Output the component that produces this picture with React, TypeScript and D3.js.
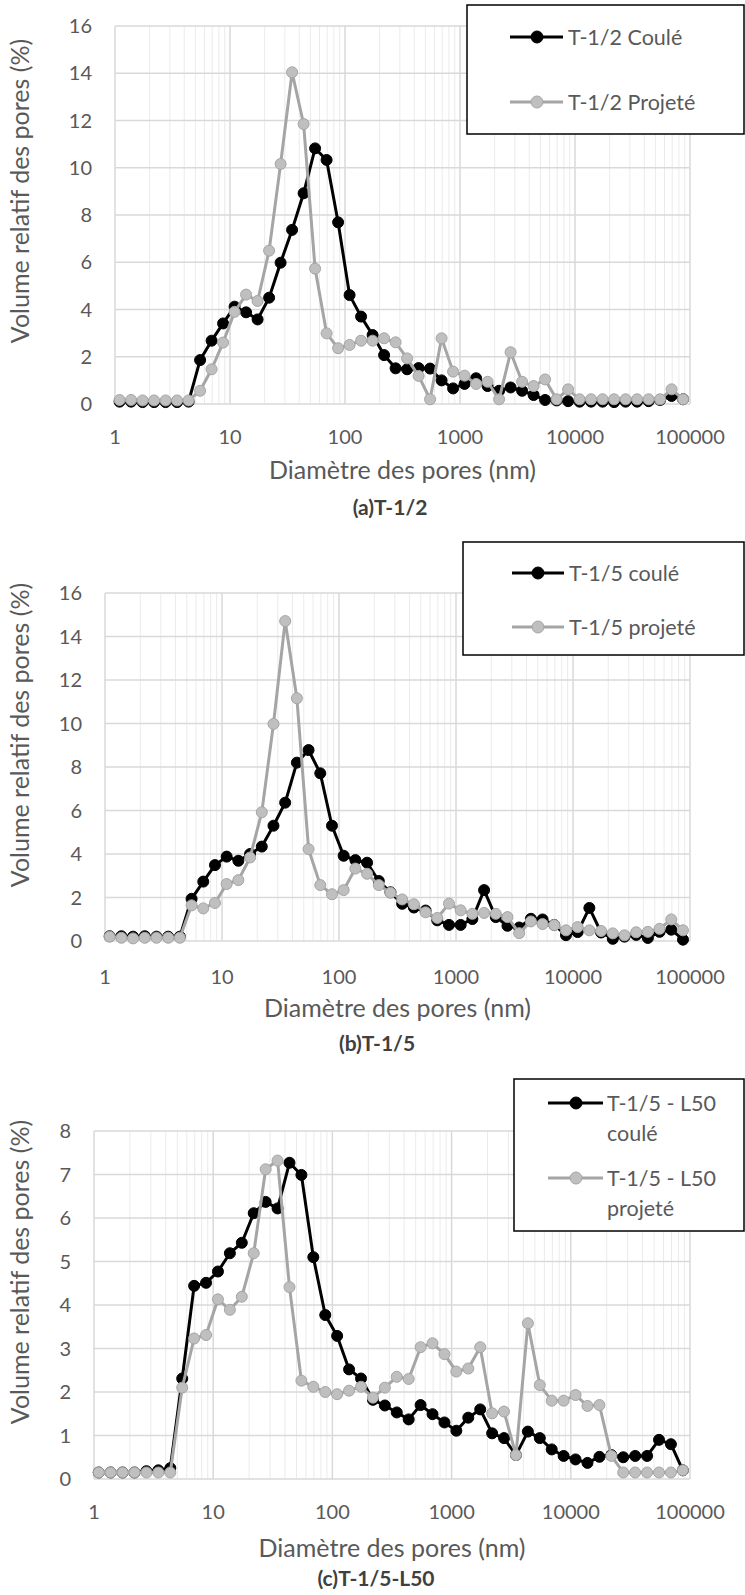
import React from "react";
import * as d3 from "d3";

// ---- Data ----
const diameters = [
  1.096, 1.38, 1.738, 2.188, 2.754, 3.467, 4.365, 5.495, 6.918, 8.71,
  10.96, 13.8, 17.38, 21.88, 27.54, 34.67, 43.65, 54.95, 69.18, 87.1,
  109.6, 138, 173.8, 218.8, 275.4, 346.7, 436.5, 549.5, 691.8, 871,
  1096, 1380, 1738, 2188, 2754, 3467, 4365, 5495, 6918, 8710,
  10960, 13800, 17380, 21880, 27540, 34670, 43650, 54950, 69180, 87100,
];

const a_coule = [
  0.1, 0.1, 0.08, 0.08, 0.08, 0.08, 0.1, 1.86, 2.68, 3.41,
  4.12, 3.88, 3.58, 4.5, 5.98, 7.37, 8.92, 10.82, 10.33, 7.69,
  4.61, 3.7, 2.92, 2.07, 1.51, 1.47, 1.52, 1.5, 1.0, 0.66,
  0.85, 1.09, 0.76, 0.56, 0.7, 0.56, 0.38, 0.17, 0.15, 0.12,
  0.1, 0.1, 0.1, 0.08, 0.1, 0.1, 0.12, 0.17, 0.34, 0.2,
];
const a_projete = [
  0.17, 0.17, 0.15, 0.15, 0.15, 0.15, 0.15, 0.56, 1.47, 2.6,
  3.9, 4.63, 4.36, 6.49, 10.16, 14.04, 11.85, 5.73, 2.99, 2.36,
  2.5, 2.68, 2.68, 2.78, 2.61, 1.93, 1.19, 0.2, 2.78, 1.37,
  1.2, 0.85, 0.94, 0.2, 2.19, 0.94, 0.76, 1.04, 0.2, 0.62,
  0.2, 0.2, 0.2, 0.2, 0.2, 0.2, 0.2, 0.2, 0.62, 0.2,
];

const b_coule = [
  0.22, 0.22, 0.2, 0.22, 0.2, 0.2, 0.2, 1.94, 2.73, 3.49,
  3.88, 3.69, 4.0, 4.34, 5.3, 6.36, 8.2, 8.78, 7.71, 5.3,
  3.92, 3.72, 3.6, 2.76, 2.24, 1.71, 1.54, 1.4, 0.95, 0.74,
  0.74, 1.01, 2.34, 1.1, 0.7, 0.62, 1.02, 0.99, 0.74, 0.27,
  0.41, 1.52, 0.39, 0.1, 0.2, 0.28, 0.14, 0.42, 0.52, 0.06,
];
const b_projete = [
  0.2, 0.15, 0.12, 0.15, 0.15, 0.15, 0.15, 1.64, 1.5, 1.75,
  2.62, 2.8, 3.84, 5.92, 9.98, 14.71, 11.16, 4.22, 2.57, 2.15,
  2.34, 3.33, 3.09, 2.57, 2.22, 1.91, 1.69, 1.32, 1.06, 1.72,
  1.41, 1.25, 1.29, 1.25, 1.1, 0.36, 0.9, 0.78, 0.73, 0.49,
  0.64, 0.49, 0.46, 0.35, 0.26, 0.4, 0.42, 0.56, 0.99, 0.49,
];

const c_coule = [
  0.15, 0.15, 0.15, 0.15, 0.18, 0.2, 0.25, 2.31, 4.44, 4.51,
  4.77, 5.19, 5.43, 6.11, 6.37, 6.22, 7.27, 6.99, 5.1, 3.77,
  3.29, 2.52, 2.31, 1.82, 1.69, 1.53, 1.37, 1.7, 1.49, 1.3,
  1.11, 1.41, 1.6, 1.05, 0.94, 0.55, 1.09, 0.94, 0.68, 0.53,
  0.45, 0.37, 0.51, 0.55, 0.5, 0.53, 0.53, 0.9, 0.8, 0.2,
];
const c_projete = [
  0.15, 0.15, 0.15, 0.15, 0.15, 0.15, 0.15, 2.1, 3.23, 3.31,
  4.13, 3.89, 4.19, 5.19, 7.12, 7.32, 4.41, 2.26, 2.12, 2.0,
  1.95, 2.03, 2.12, 1.87, 2.1, 2.35, 2.3, 3.03, 3.12, 2.87,
  2.47, 2.54, 3.03, 1.51, 1.55, 0.55, 3.58, 2.16, 1.8, 1.8,
  1.93, 1.68, 1.7, 0.53, 0.15, 0.15, 0.15, 0.15, 0.15, 0.2,
];

const xTickValues = [1, 10, 100, 1000, 10000, 100000];
const xTickLabels = ["1", "10", "100", "1000", "10000", "100000"];
const yTicks16 = [0, 2, 4, 6, 8, 10, 12, 14, 16];
const yTicks8 = [0, 1, 2, 3, 4, 5, 6, 7, 8];

const xTitle = "Diamètre des pores (nm)";
const yTitle = "Volume relatif des pores (%)";

const legendA = [["T-1/2 Coulé"], ["T-1/2 Projeté"]];
const legendB = [["T-1/5 coulé"], ["T-1/5 projeté"]];
const legendC = [["T-1/5 - L50", "coulé"], ["T-1/5 - L50", "projeté"]];

// ---- Layout ----
const FONT = "Lato, Carlito, 'Noto Sans', sans-serif";
const TEXT = "#595959";
const BLACK = "#000000";
const GREY_LINE = "#A5A5A5";
const GREY_FILL = "#BFBFBF";

type ChartCfg = {
  l: number; r: number; t: number; b: number;
  ymax: number; yticks: number[];
  yTitleCy: number; xTitleY: number; xTickY: number;
  caption: string; capX: number; capY: number;
  series: number[][];
  legend: { x: number; y: number; h: number; lx1: number; lx2: number; mx: number; tx: number; rowY: number[]; rows: string[][] };
};

const charts: ChartCfg[] = [
  {
    l: 115, r: 690, t: 26, b: 404, ymax: 16, yticks: yTicks16,
    yTitleCy: 191, xTitleY: 479, xTickY: 444,
    caption: "(a)T-1/2", capX: 390, capY: 515,
    series: [a_coule, a_projete],
    legend: { x: 467, y: 5, h: 129, lx1: 510, lx2: 563, mx: 537, tx: 568, rowY: [37, 102], rows: legendA },
  },
  {
    l: 105, r: 690, t: 593, b: 941, ymax: 16, yticks: yTicks16,
    yTitleCy: 735, xTitleY: 1017, xTickY: 984,
    caption: "(b)T-1/5", capX: 377, capY: 1051,
    series: [b_coule, b_projete],
    legend: { x: 463, y: 542, h: 113, lx1: 512, lx2: 564, mx: 538, tx: 569, rowY: [573, 627], rows: legendB },
  },
  {
    l: 94, r: 690, t: 1131, b: 1479, ymax: 8, yticks: yTicks8,
    yTitleCy: 1272, xTitleY: 1557, xTickY: 1519,
    caption: "(c)T-1/5-L50", capX: 376, capY: 1586,
    series: [c_coule, c_projete],
    legend: { x: 514, y: 1079, h: 152, lx1: 548, lx2: 603, mx: 576, tx: 607, rowY: [1103, 1178], rows: legendC },
  },
];

const minorValues: number[] = [];
for (let d = 1; d < 100000; d *= 10) for (let m = 2; m <= 9; m++) minorValues.push(m * d);

function Chart({ c }: { c: ChartCfg }) {
  const x = d3.scaleLog().domain([1, 100000]).range([c.l, c.r]);
  const y = d3.scaleLinear().domain([0, c.ymax]).range([c.b, c.t]);
  const line = d3.line<number>().x((_, i) => x(diameters[i])).y((v) => y(v));
  const styles = [
    { stroke: BLACK, fill: BLACK },
    { stroke: GREY_LINE, fill: GREY_FILL },
  ];
  const L = c.legend;
  return (
    <g>
      {minorValues.map((v) => (
        <line key={"m" + v} x1={x(v)} x2={x(v)} y1={c.t} y2={c.b} stroke="#EBEBEB" strokeWidth={1} />
      ))}
      {c.yticks.map((v) => (
        <line key={"h" + v} x1={c.l} x2={c.r} y1={y(v)} y2={y(v)} stroke="#D9D9D9" strokeWidth={1.5} />
      ))}
      {xTickValues.map((v) => (
        <line key={"v" + v} x1={x(v)} x2={x(v)} y1={c.t} y2={c.b} stroke="#D9D9D9" strokeWidth={1.5} />
      ))}
      {c.yticks.map((v) => (
        <text key={"yt" + v} x={c.l - 23} y={y(v) + 7} textAnchor="end" fontSize={20} fill={TEXT} fontFamily={FONT}>
          {v}
        </text>
      ))}
      {xTickValues.map((v, i) => (
        <text key={"xt" + v} x={x(v)} y={c.xTickY} textAnchor="middle" fontSize={20} fill={TEXT} fontFamily={FONT}>
          {xTickLabels[i]}
        </text>
      ))}
      <text x={(c.l + c.r) / 2} y={c.xTitleY} textAnchor="middle" fontSize={25} fill={TEXT} fontFamily={FONT}>
        {xTitle}
      </text>
      <text transform={`translate(29,${c.yTitleCy}) rotate(-90)`} textAnchor="middle" fontSize={25} fill={TEXT} fontFamily={FONT}>
        {yTitle}
      </text>
      <text x={c.capX} y={c.capY} textAnchor="middle" fontSize={21} fontWeight="bold" fill="#404040" fontFamily={FONT}>
        {c.caption}
      </text>
      {c.series.map((s, si) => (
        <g key={"s" + si}>
          <path d={line(s) || ""} fill="none" stroke={styles[si].stroke} strokeWidth={3} strokeLinejoin="round" />
          {s.map((v, i) => (
            <circle key={i} cx={x(diameters[i])} cy={y(v)} r={5.5} fill={styles[si].fill} stroke={styles[si].stroke} strokeWidth={1} />
          ))}
        </g>
      ))}
      <rect x={L.x} y={L.y} width={744 - L.x} height={L.h} fill="#FFFFFF" stroke="#000000" strokeWidth={1.5} />
      {L.rows.map((rowLines, ri) => (
        <g key={"lg" + ri}>
          <line x1={L.lx1} x2={L.lx2} y1={L.rowY[ri]} y2={L.rowY[ri]} stroke={styles[ri].stroke} strokeWidth={3} />
          <circle cx={L.mx} cy={L.rowY[ri]} r={6} fill={styles[ri].fill} stroke={styles[ri].stroke} strokeWidth={1} />
          {rowLines.map((t, ti) => (
            <text key={ti} x={L.tx} y={L.rowY[ri] + 8 + ti * 30} fontSize={21.5} fill={TEXT} fontFamily={FONT}>
              {t}
            </text>
          ))}
        </g>
      ))}
    </g>
  );
}

export default function App() {
  return (
    <svg width={745} height={1595} style={{ position: "absolute", left: 0, top: 0, background: "#fff" }}>
      <rect x={0} y={0} width={745} height={1595} fill="#FFFFFF" />
      {charts.map((c, i) => (
        <Chart key={i} c={c} />
      ))}
    </svg>
  );
}
